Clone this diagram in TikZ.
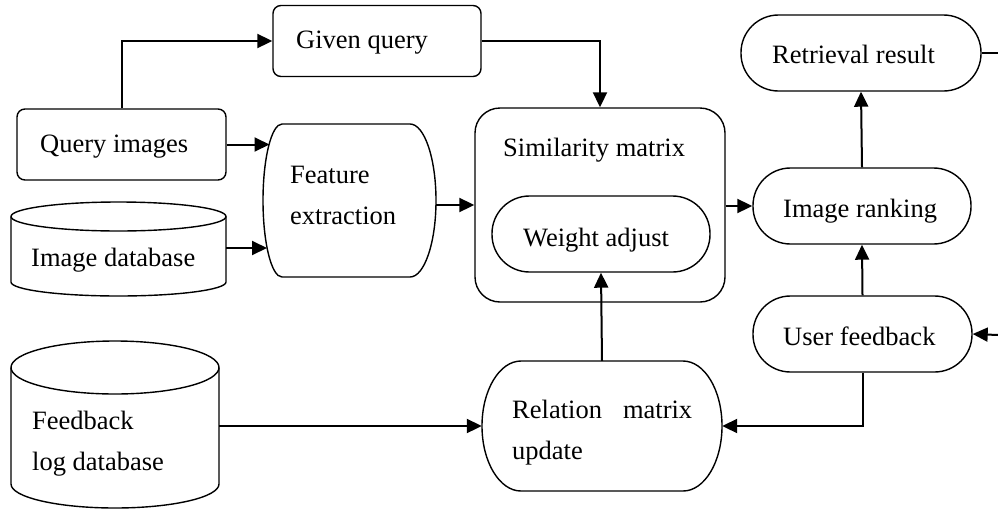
\documentclass[tikz,border=0pt]{standalone}
\usepackage{fontspec}
\setmainfont{Liberation Serif}
\usetikzlibrary{arrows.meta}
\begin{document}
\begin{tikzpicture}[x=1pt,y=-1pt,
  shp/.style={draw, line width=1.4pt, inner sep=0pt},
  rbox/.style={shp, rectangle, rounded corners=8pt},
  stad/.style={shp, rectangle, rounded corners=37.5pt},
  area/.style={draw=none, rectangle, inner sep=0pt},
  txt/.style={anchor=base west, inner sep=0pt, align=left, font=\fontsize{26.5pt}{41pt}\selectfont},
  arr/.style={line width=2pt, -{Triangle[length=15pt,width=14pt]}},
  conn/.style={line width=2pt}]
\useasboundingbox (0,0) rectangle (998,509);

% boxes
\node[rbox, minimum width=208pt, minimum height=71pt] (gq) at (377,41) {};
\node[rbox, minimum width=209pt, minimum height=71pt] (qi) at (121.5,144.5) {};
\node[shp, rectangle, rounded corners=25pt, minimum width=250pt, minimum height=194pt] (sm) at (600,205) {};
\node[stad, minimum width=218pt, minimum height=76pt] (wa) at (601,234) {};
\node[stad, minimum width=240pt, minimum height=76pt] (rr) at (861,53) {};
\node[stad, minimum width=218pt, minimum height=76pt] (ir) at (862,206) {};
\node[stad, minimum width=219pt, minimum height=76pt] (uf) at (862.5,334) {};

% feature extraction
\draw[line width=1.4pt] (282,124) -- (410,124)
  arc[start angle=90, end angle=-90, x radius=26pt, y radius=76.5pt]
  -- (282,277)
  arc[start angle=270, end angle=90, x radius=19pt, y radius=76.5pt] -- cycle;
\node[area, minimum width=173pt, minimum height=153pt] (fe) at (349.5,200.5) {};
\coordinate (fein1) at (269.5,144.5);
\coordinate (fein2) at (267,248);

% relation matrix update
\draw[line width=1.4pt] (521,361) -- (683,361)
  arc[start angle=90, end angle=-90, x radius=39pt, y radius=65pt]
  -- (521,491)
  arc[start angle=270, end angle=90, x radius=39pt, y radius=65pt] -- cycle;
\node[area, minimum width=240pt, minimum height=130pt] (rm) at (602,426) {};

% image database cylinder
\draw[line width=1.4pt] (11,216.5) -- (11,282)
  arc[start angle=180, end angle=360, x radius=107.5pt, y radius=14pt] -- (226,216.5);
\draw[line width=1.4pt] (118.5,216.5) ellipse[x radius=107.5pt, y radius=14.5pt];
\node[area, minimum width=215pt, minimum height=95pt] (idb) at (118.5,248.5) {};

% feedback log database cylinder
\draw[line width=1.4pt] (11,367.5) -- (11,484)
  arc[start angle=180, end angle=360, x radius=104pt, y radius=24pt] -- (219,367.5);
\draw[line width=1.4pt] (115,367.5) ellipse[x radius=104pt, y radius=26.5pt];
\node[area, minimum width=208pt, minimum height=167pt] (fl) at (115,424.5) {};

% texts (base = baseline of last line)
\node[txt] (gqt) at (296,48) {Given query};
\node[txt] (qit) at (40,152) {Query images};
\node[txt] (fet) at (290,224) {Feature\\extraction};
\node[txt] (idbt) at (31,266) {Image database};
\node[txt] (smt) at (503,156) {Similarity matrix};
\node[txt] (wat) at (523,246) {Weight adjust};
\node[txt] (rrt) at (772,63) {Retrieval result};
\node[txt] (irt) at (783,217) {Image ranking};
\node[txt] (uft) at (783,345) {User feedback};
\node[txt] (rmt) at (512,459) {\makebox[180pt][s]{Relation matrix}\\update};
\node[txt] (flt) at (32,470) {Feedback\\log database};

% outside coordinates
\coordinate (rrout) at (998,53);
\coordinate (ufin) at (998,335);

% connectors
\draw[arr] (qi.north) |- (gq.west);
\draw[arr] (gq.east) -| (sm.north);
\draw[arr] (qi.east |- fein1) -- (fein1);
\draw[arr] (idb.east |- fein2) -- (fein2);
\draw[arr] (fe.east |- sm.west) -- (sm.west);
\draw[arr] (sm.east |- ir.west) -- (ir.west);
\draw[arr] (ir.north) -- (rr.south);
\draw[conn] (rr.east) -- (rrout);
\draw[arr] (ufin) -- (uf.east);
\draw[arr] (uf.north) -- (ir.south);
\draw[arr] (uf.south) |- (rm.east);
\draw[arr] (rm.north) -- (wa.south);
\draw[arr] (fl.east |- rm.west) -- (rm.west);
\end{tikzpicture}
\end{document}
